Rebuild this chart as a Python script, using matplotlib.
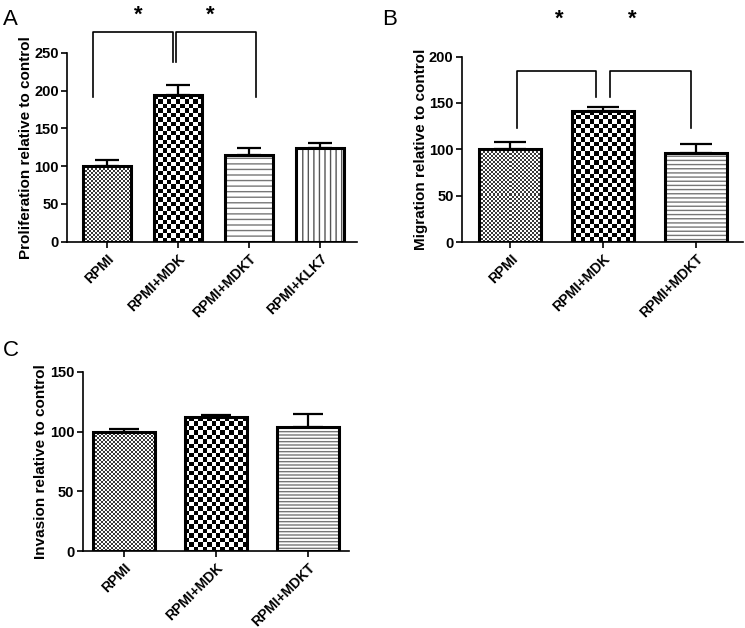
import numpy as np
import matplotlib
matplotlib.use("Agg")
import matplotlib.pyplot as plt

plt.rcParams['font.family'] = ['Liberation Sans', 'DejaVu Sans']
plt.rcParams['font.weight'] = 'bold'
plt.rcParams['hatch.linewidth'] = 1.0
plt.rcParams['hatch.color'] = '#777777'

# panel A: proliferation
a_labels = ["RPMI", "RPMI+MDK", "RPMI+MDKT", "RPMI+KLK7"]
a_values = [100, 194, 115, 124]
a_errors = [8, 13, 9, 7]
a_patterns = ["fine", "checker", "hlines", "vlines"]

# panel B: migration
b_labels = ["RPMI", "RPMI+MDK", "RPMI+MDKT"]
b_values = [100, 141, 96]
b_errors = [8, 5, 10]
b_patterns = ["fine", "checker", "hlines"]

# panel C: invasion
c_labels = ["RPMI", "RPMI+MDK", "RPMI+MDKT"]
c_values = [100, 112, 104]
c_errors = [2, 1.5, 11]
c_patterns = ["fine", "checker", "hlines"]


def fill_checker(ax, bar, cell_px, dark):
    x0, y0 = bar.get_x(), bar.get_y()
    x1, y1 = x0 + bar.get_width(), y0 + bar.get_height()
    (px0, py0), (px1, py1) = ax.transData.transform([(x0, y0), (x1, y1)])
    nc = max(1, int(round(abs(px1 - px0) / cell_px)))
    nr = max(1, int(round(abs(py1 - py0) / cell_px)))
    jj, ii = np.meshgrid(np.arange(nc), np.arange(nr))
    img = ((ii + jj) % 2).astype(float)
    cmap = matplotlib.colors.ListedColormap([dark, 'white'])
    im = ax.imshow(img, extent=[x0, x1, y0, y1], origin='lower', cmap=cmap,
                   vmin=0, vmax=1, interpolation='nearest', aspect='auto', zorder=1)
    im.set_clip_path(bar)


def draw_panel(ax, labels, values, errors, patterns, ymax, ystep, ylabel,
               xlim, cap, hdense):
    x = np.arange(len(labels))
    ax.set_xlim(*xlim)
    ax.set_ylim(0, ymax)
    width = 0.67
    for i, p in enumerate(patterns):
        if p == "hlines":
            ax.bar(x[i], values[i], width, color='white', edgecolor='#777777',
                   hatch='-' * hdense, linewidth=0, zorder=1)
        elif p == "vlines":
            ax.bar(x[i], values[i], width, color='white', edgecolor='#555555',
                   hatch='|||', linewidth=0, zorder=1)
        else:
            b = ax.bar(x[i], values[i], width, color='white', linewidth=0, zorder=1)[0]
            if p == "fine":
                fill_checker(ax, b, 2.0, '#3a3a3a')
            else:
                fill_checker(ax, b, 4.5, 'black')
    ax.bar(x, values, width, color='none', edgecolor='black', linewidth=2.2, zorder=3)
    ax.errorbar(x, values, yerr=[np.zeros(len(x)), errors], fmt='none',
                ecolor='black', elinewidth=1.6, capsize=cap, capthick=1.6, zorder=2)
    ax.set_xlim(*xlim)
    ax.set_ylim(0, ymax)
    ax.set_yticks(np.arange(0, ymax + 1, ystep))
    ax.set_xticks(x)
    ax.set_xticklabels(labels, rotation=45, ha='right', rotation_mode='anchor',
                       fontsize=10, fontweight='bold')
    ax.tick_params(axis='y', labelsize=10.5, width=1.2, length=4, pad=2)
    ax.tick_params(axis='x', width=1.2, length=4, pad=3)
    for t in ax.get_yticklabels():
        t.set_fontweight('bold')
    ax.spines['top'].set_visible(False)
    ax.spines['right'].set_visible(False)
    ax.spines['left'].set_linewidth(1.2)
    ax.spines['bottom'].set_linewidth(1.2)
    ax.set_ylabel(ylabel, fontsize=11, fontweight='bold', labelpad=1)


def bracket(ax, xa, ya, xb, yb, ytop):
    ax.plot([xa, xa, xb, xb], [ya, ytop, ytop, yb], color='black', lw=1.2,
            clip_on=False, zorder=4)


fig = plt.figure(figsize=(7.45, 6.28), dpi=100)

axA = fig.add_axes([0.090, 0.615, 0.389, 0.301])
draw_panel(axA, a_labels, a_values, a_errors, a_patterns, 250, 50,
           "Proliferation relative to control", (-0.56, 3.52), 8.6, 3)
bracket(axA, -0.2, 192, 0.93, 238, 277)
bracket(axA, 0.98, 238, 2.1, 192, 277)
axA.text(0.44, 300, "*", ha='center', va='center', fontsize=16, clip_on=False)
axA.text(1.46, 300, "*", ha='center', va='center', fontsize=16, clip_on=False)

axB = fig.add_axes([0.620, 0.614, 0.377, 0.296])
draw_panel(axB, b_labels, b_values, b_errors, b_patterns, 200, 50,
           "Migration relative to control", (-0.52, 2.5), 11.5, 4)
bracket(axB, 0.07, 123, 0.92, 156, 184)
bracket(axB, 1.07, 156, 1.94, 123, 184)
axB.text(0.53, 240, "*", ha='center', va='center', fontsize=16, clip_on=False)
axB.text(1.31, 240, "*", ha='center', va='center', fontsize=16, clip_on=False)

axC = fig.add_axes([0.111, 0.1226, 0.357, 0.2854])
draw_panel(axC, c_labels, c_values, c_errors, c_patterns, 150, 50,
           "Invasion relative to control", (-0.45, 2.44), 10.8, 5)

fig.text(0.004, 0.985, "A", fontsize=16, fontweight='normal', va='top')
fig.text(0.513, 0.985, "B", fontsize=16, fontweight='normal', va='top')
fig.text(0.004, 0.458, "C", fontsize=16, fontweight='normal', va='top')

fig.savefig("out.png", dpi=100)
